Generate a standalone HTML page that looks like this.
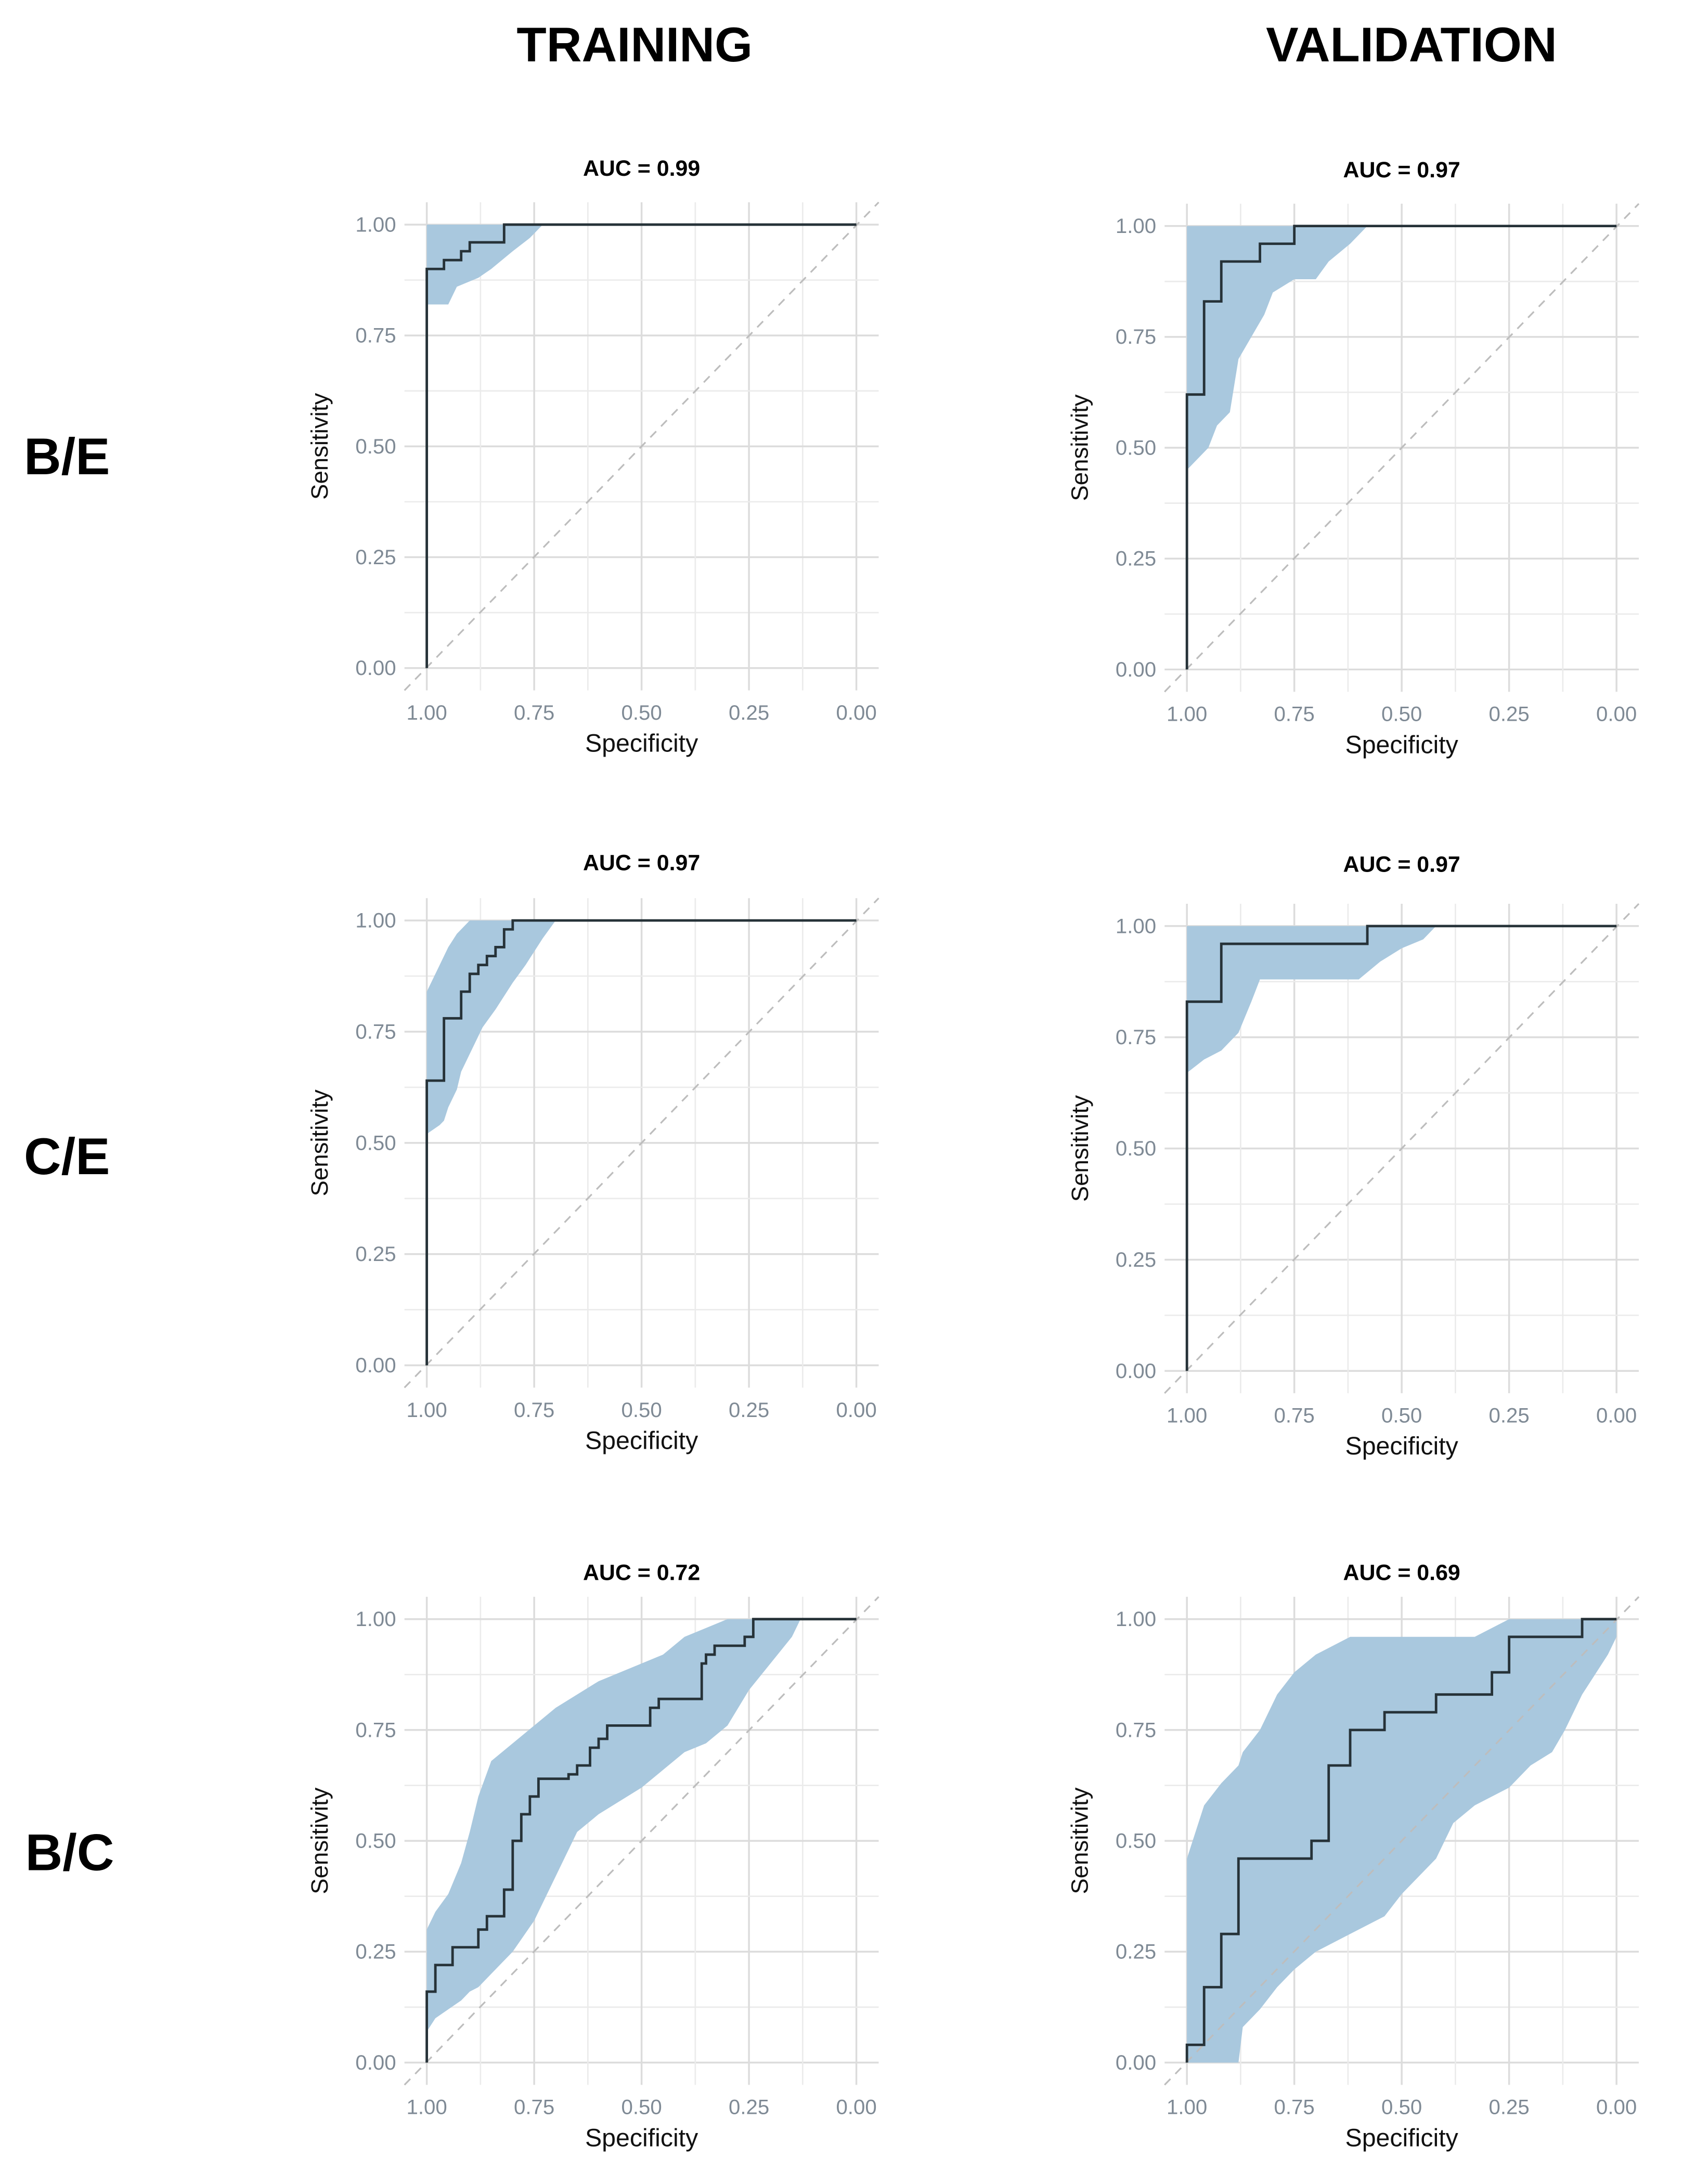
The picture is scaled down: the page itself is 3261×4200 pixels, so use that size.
<!DOCTYPE html>
<html><head><meta charset="utf-8">
<style>
html,body{margin:0;padding:0;background:#fff;}
svg{display:block;}
text{font-family:"Liberation Sans",sans-serif;}
</style></head>
<body>
<svg id="fig" width="3261" height="4200" viewBox="0 0 1216 1566" xmlns="http://www.w3.org/2000/svg">
<text x="455" y="44" text-anchor="middle" font-size="35" font-weight="bold" fill="#000">TRAINING</text>
<text x="1012" y="44" text-anchor="middle" font-size="35" font-weight="bold" fill="#000">VALIDATION</text>
<text x="48" y="340" text-anchor="middle" font-size="37" font-weight="bold" fill="#000">B/E</text>
<text x="48" y="842" text-anchor="middle" font-size="37" font-weight="bold" fill="#000">C/E</text>
<text x="50" y="1341" text-anchor="middle" font-size="37" font-weight="bold" fill="#000">B/C</text>
</svg>
<script>
// ---- data: step curves (specificity, sensitivity) and CI bands ----
const aucLabels = ["AUC = 0.99","AUC = 0.97","AUC = 0.97","AUC = 0.97","AUC = 0.72","AUC = 0.69"];
const tickLabels = ["1.00","0.75","0.50","0.25","0.00"];
const tickValues = [1,0.75,0.5,0.25,0];

const trBE_spec=[1,1,0.96,0.96,0.92,0.92,0.9,0.9,0.82,0.82,0];
const trBE_sens=[0,0.9,0.9,0.92,0.92,0.94,0.94,0.96,0.96,1,1];
const trBE_bandSpec=[1,0.95,0.93,0.88,0.85,0.8,0.76,0.73];
const trBE_bandLo=[0.82,0.82,0.86,0.88,0.9,0.94,0.97,1];
const trBE_bandHi=[1,1,1,1,1,1,1,1];

const vaBE_spec=[1,1,0.96,0.96,0.92,0.92,0.83,0.83,0.75,0.75,0];
const vaBE_sens=[0,0.62,0.62,0.83,0.83,0.92,0.92,0.96,0.96,1,1];
const vaBE_bandSpec=[1,0.97,0.95,0.93,0.9,0.88,0.85,0.82,0.8,0.75,0.7,0.67,0.62,0.58];
const vaBE_bandLo=[0.45,0.48,0.5,0.55,0.58,0.7,0.75,0.8,0.85,0.88,0.88,0.92,0.96,1];
const vaBE_bandHi=[1,1,1,1,1,1,1,1,1,1,1,1,1,1];

const trCE_spec=[1,1,0.96,0.96,0.92,0.92,0.9,0.9,0.88,0.88,0.86,0.86,0.84,0.84,0.82,0.82,0.8,0.8,0];
const trCE_sens=[0,0.64,0.64,0.78,0.78,0.84,0.84,0.88,0.88,0.9,0.9,0.92,0.92,0.94,0.94,0.98,0.98,1,1];
const trCE_bandSpec=[1,0.97,0.96,0.95,0.93,0.92,0.9,0.87,0.84,0.8,0.77,0.73,0.7];
const trCE_bandLo=[0.52,0.54,0.55,0.58,0.62,0.66,0.7,0.76,0.8,0.86,0.9,0.96,1];
const trCE_bandHi=[0.84,0.9,0.92,0.94,0.97,0.98,1,1,1,1,1,1,1];

const vaCE_spec=[1,1,0.92,0.92,0.58,0.58,0];
const vaCE_sens=[0,0.83,0.83,0.96,0.96,1,1];
const vaCE_bandSpec=[1,0.96,0.92,0.88,0.85,0.83,0.6,0.55,0.5,0.45,0.42];
const vaCE_bandLo=[0.67,0.7,0.72,0.76,0.83,0.88,0.88,0.92,0.95,0.97,1];
const vaCE_bandHi=[1,1,1,1,1,1,1,1,1,1,1];

const trBC_spec=[1,1,0.98,0.98,0.94,0.94,0.88,0.88,0.86,0.86,0.82,0.82,0.8,0.8,0.78,0.78,0.76,0.76,0.74,0.74,0.67,0.67,0.65,0.65,0.62,0.62,0.6,0.6,0.58,0.58,0.48,0.48,0.46,0.46,0.36,0.36,0.35,0.35,0.33,0.33,0.26,0.26,0.24,0.24,0];
const trBC_sens=[0,0.16,0.16,0.22,0.22,0.26,0.26,0.3,0.3,0.33,0.33,0.39,0.39,0.5,0.5,0.56,0.56,0.6,0.6,0.64,0.64,0.65,0.65,0.67,0.67,0.71,0.71,0.73,0.73,0.76,0.76,0.8,0.8,0.82,0.82,0.9,0.9,0.92,0.92,0.94,0.94,0.96,0.96,1,1];
const trBC_bandSpec=[1,0.98,0.95,0.92,0.9,0.88,0.85,0.8,0.75,0.7,0.65,0.6,0.5,0.45,0.4,0.35,0.3,0.25,0.2,0.15,0.13,0];
const trBC_bandLo=[0.07,0.1,0.12,0.14,0.16,0.17,0.2,0.25,0.32,0.42,0.52,0.56,0.62,0.66,0.7,0.72,0.76,0.84,0.9,0.96,1,1];
const trBC_bandHi=[0.3,0.34,0.38,0.45,0.52,0.6,0.68,0.72,0.76,0.8,0.83,0.86,0.9,0.92,0.96,0.98,1,1,1,1,1,1];

const vaBC_spec=[1,1,0.96,0.96,0.92,0.92,0.88,0.88,0.71,0.71,0.67,0.67,0.62,0.62,0.54,0.54,0.42,0.42,0.29,0.29,0.25,0.25,0.08,0.08,0];
const vaBC_sens=[0,0.04,0.04,0.17,0.17,0.29,0.29,0.46,0.46,0.5,0.5,0.67,0.67,0.75,0.75,0.79,0.79,0.83,0.83,0.88,0.88,0.96,0.96,1,1];
const vaBC_bandSpec=[1,0.96,0.92,0.88,0.87,0.83,0.79,0.75,0.7,0.62,0.54,0.5,0.42,0.38,0.33,0.25,0.2,0.15,0.12,0.08,0.02,0];
const vaBC_bandLo=[0,0,0,0,0.08,0.12,0.17,0.21,0.25,0.29,0.33,0.38,0.46,0.54,0.58,0.62,0.67,0.7,0.75,0.83,0.92,0.96];
const vaBC_bandHi=[0.46,0.58,0.63,0.67,0.7,0.75,0.83,0.88,0.92,0.96,0.96,0.96,0.96,0.96,0.96,1,1,1,1,1,1,1];

// ---- layout ----
const panels=[
 {n:"training-be",x0:306,x1:614,yT:161,yB:479,spec:trBE_spec,sens:trBE_sens,bs:trBE_bandSpec,lo:trBE_bandLo,hi:trBE_bandHi,auc:0,aucY:126},
 {n:"validation-be",x0:851,x1:1159,yT:162,yB:480,spec:vaBE_spec,sens:vaBE_sens,bs:vaBE_bandSpec,lo:vaBE_bandLo,hi:vaBE_bandHi,auc:1,aucY:127},
 {n:"training-ce",x0:306,x1:614,yT:660,yB:979,spec:trCE_spec,sens:trCE_sens,bs:trCE_bandSpec,lo:trCE_bandLo,hi:trCE_bandHi,auc:2,aucY:624},
 {n:"validation-ce",x0:851,x1:1159,yT:664,yB:983,spec:vaCE_spec,sens:vaCE_sens,bs:vaCE_bandSpec,lo:vaCE_bandLo,hi:vaCE_bandHi,auc:3,aucY:625},
 {n:"training-bc",x0:306,x1:614,yT:1161,yB:1479,spec:trBC_spec,sens:trBC_sens,bs:trBC_bandSpec,lo:trBC_bandLo,hi:trBC_bandHi,auc:4,aucY:1133},
 {n:"validation-bc",x0:851,x1:1159,yT:1161,yB:1479,spec:vaBC_spec,sens:vaBC_sens,bs:vaBC_bandSpec,lo:vaBC_bandLo,hi:vaBC_bandHi,auc:5,aucY:1133}
];
const NS="http://www.w3.org/2000/svg";
const svg=document.getElementById('fig');
function mk(tag,attrs,parent){const e=document.createElementNS(NS,tag);for(const k in attrs)e.setAttribute(k,attrs[k]);(parent||svg).appendChild(e);return e;}
panels.forEach(p=>{
 const g=mk('g',{});
 
 
 const X=s=>p.x0+(1-s)*(p.x1-p.x0);
 const Y=v=>p.yB-v*(p.yB-p.yT);
 const L=p.x0-16,R=p.x1+16,T=p.yT-16,B=p.yB+16;
 for(let i=0;i<=8;i++){
  const v=i/8;
  const gl=mk('line',{x1:L,x2:R,y1:Y(v),y2:Y(v),stroke:i%2?'#ebebeb':'#dcdcdc','stroke-width':i%2?1:1.3},g);
  
  
  const gv=mk('line',{x1:X(v),x2:X(v),y1:T,y2:B,stroke:i%2?'#ebebeb':'#dcdcdc','stroke-width':i%2?1:1.3},g);
  
  
 }
 let pts=[];
 p.bs.forEach((s,i)=>pts.push(X(s)+','+Y(p.hi[i])));
 for(let i=p.bs.length-1;i>=0;i--)pts.push(X(p.bs[i])+','+Y(p.lo[i]));
 const band=mk('polygon',{points:pts.join(' '),fill:'#a9c8de'},g);
 
 
 const d=mk('line',{x1:L,y1:B,x2:R,y2:T,stroke:'#bdbdbd','stroke-width':1.2,'stroke-dasharray':'6,5'},g);
 
 
 const cp=p.spec.map((s,i)=>X(s)+','+Y(p.sens[i])).join(' ');
 const c=mk('polyline',{points:cp,fill:'none',stroke:'#263238','stroke-width':1.8},g);
 
 
 tickValues.forEach((v,i)=>{
  const tx=mk('text',{x:X(v),y:p.yB+37,'text-anchor':'middle','font-size':15,fill:'#7f8a95'},g);
  tx.textContent=tickLabels[i];
  
  
  const ty=mk('text',{x:p.x0-22,y:Y(v)+5,'text-anchor':'end','font-size':15,fill:'#7f8a95'},g);
  ty.textContent=tickLabels[i];
  
  
 });
 const xt=mk('text',{x:(p.x0+p.x1)/2,y:p.yB+60,'text-anchor':'middle','font-size':18,fill:'#111'},g);
 xt.textContent='Specificity';
 
 
 const yc=(p.yT+p.yB)/2, yx=p.x0-71;
 const yt=mk('text',{x:yx,y:yc,'text-anchor':'middle','font-size':17,fill:'#111',transform:`rotate(-90 ${yx} ${yc})`},g);
 yt.textContent='Sensitivity';
 
 
 const at=mk('text',{x:(p.x0+p.x1)/2,y:p.aucY,'text-anchor':'middle','font-size':16,'font-weight':'bold',fill:'#000'},g);
 at.textContent=aucLabels[p.auc];
 
 
});
</script>
</body></html>
